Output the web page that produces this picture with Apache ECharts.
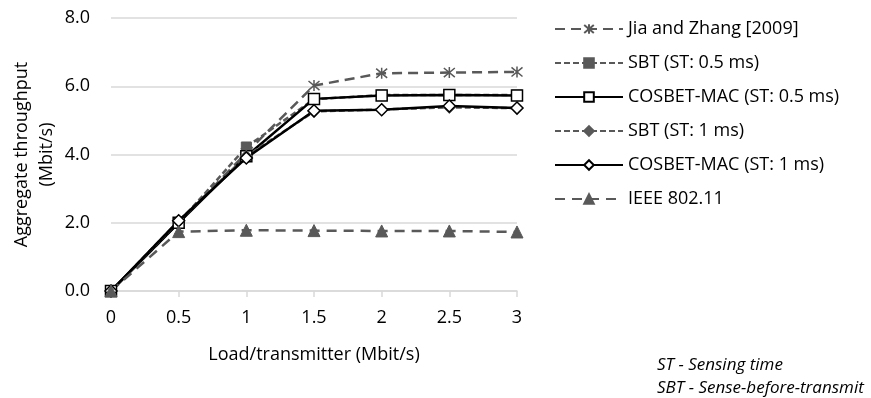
<!DOCTYPE html>
<html>
<head>
<meta charset="utf-8">
<script src="https://cdn.jsdelivr.net/npm/echarts@6/dist/echarts.min.js"></script>
<style>html,body{margin:0;padding:0;background:#fff}#c{width:871px;height:398px}</style>
</head>
<body>
<div id="c"></div>
<script>
const loads = [0, 0.5, 1, 1.5, 2, 2.5, 3];
const jiaZhang = [0, 2.0, 4.05, 6.02, 6.38, 6.40, 6.42];
const sbt05 = [0, 2.0, 4.22, 5.62, 5.74, 5.74, 5.74];
const cosbet05 = [0, 2.0, 3.95, 5.63, 5.73, 5.74, 5.73];
const sbt1 = [0, 2.05, 3.95, 5.26, 5.32, 5.38, 5.36];
const cosbet1 = [0, 2.06, 3.9, 5.28, 5.31, 5.42, 5.36];
const ieee = [0, 1.74, 1.78, 1.77, 1.76, 1.76, 1.73];
const names = ['Jia and Zhang [2009]', 'SBT (ST: 0.5 ms)', 'COSBET-MAC (ST: 0.5 ms)', 'SBT (ST: 1 ms)', 'COSBET-MAC (ST: 1 ms)', 'IEEE 802.11'];
const yTicks = [0, 2, 4, 6, 8];

const FONT = 'Open Sans';
const GRAY = '#595959';
const pair = arr => loads.map((x, i) => [x, arr[i]]);
const asterisk = 'path://M0,0L10,10M10,0L0,10M5,-1L5,11';

const chart = echarts.init(document.getElementById('c'));
chart.setOption({
  animation: false,
  textStyle: { fontFamily: FONT },
  grid: { left: 111, right: 354, top: 18, bottom: 107, outerBoundsMode: 'none', containLabel: false },
  xAxis: {
    type: 'value', min: 0, max: 3, interval: 0.5,
    name: 'Load/transmitter (Mbit/s)', nameLocation: 'middle', nameGap: 55,
    nameTextStyle: { fontSize: 18, color: '#000', fontFamily: FONT },
    axisLine: { show: true, lineStyle: { color: '#d9d9d9', width: 1.5 } },
    axisTick: { show: true, length: 6, lineStyle: { color: '#d9d9d9', width: 1.5 } },
    axisLabel: { fontSize: 18, color: '#000', margin: 18, fontFamily: FONT },
    splitLine: { show: false }
  },
  yAxis: {
    type: 'value', min: yTicks[0], max: yTicks[yTicks.length - 1], interval: 2,
    name: 'Aggregate throughput\n(Mbit/s)', nameLocation: 'middle', nameGap: 52, nameRotate: 90,
    nameTextStyle: { fontSize: 18, color: '#000', lineHeight: 25, fontFamily: FONT },
    axisLine: { show: false }, axisTick: { show: false },
    axisLabel: { fontSize: 18, color: '#000', margin: 21, formatter: v => v.toFixed(1), fontFamily: FONT },
    splitLine: { lineStyle: { color: '#d9d9d9', width: 1.5 } }
  },
  legend: {
    orient: 'vertical', left: 549, top: 14,
    itemWidth: 68, itemHeight: 12, itemGap: 14,
    textStyle: { fontSize: 18, color: '#000', lineHeight: 20, fontFamily: FONT },
    data: names
  },
  graphic: [
    { type: 'text', left: 657, top: 357, style: { text: 'ST - Sensing time', font: 'italic 17px "Open Sans"', fill: '#000' } },
    { type: 'text', left: 657, top: 380, style: { text: 'SBT - Sense-before-transmit', font: 'italic 17px "Open Sans"', fill: '#000' } }
  ],
  series: [
    { name: names[0], type: 'line', data: pair(jiaZhang), symbol: asterisk, symbolSize: 11,
      lineStyle: { color: GRAY, width: 2.5, type: [10, 6] },
      itemStyle: { color: GRAY, borderColor: GRAY, borderWidth: 1.5 } },
    { name: names[1], type: 'line', data: pair(sbt05), symbol: 'rect', symbolSize: 10,
      lineStyle: { color: GRAY, width: 2.5, type: [6, 3] },
      itemStyle: { color: GRAY, borderColor: GRAY, borderWidth: 1 } },
    { name: names[2], type: 'line', data: pair(cosbet05), symbol: 'rect', symbolSize: 11,
      lineStyle: { color: '#000', width: 2.5, type: 'solid' },
      itemStyle: { color: '#fff', borderColor: '#000', borderWidth: 1.5 } },
    { name: names[3], type: 'line', data: pair(sbt1), symbol: 'diamond', symbolSize: 12,
      lineStyle: { color: GRAY, width: 2.5, type: [6, 3] },
      itemStyle: { color: GRAY, borderColor: GRAY, borderWidth: 1 } },
    { name: names[4], type: 'line', data: pair(cosbet1), symbol: 'diamond', symbolSize: 12,
      lineStyle: { color: '#000', width: 2.5, type: 'solid' },
      itemStyle: { color: '#fff', borderColor: '#000', borderWidth: 1.5 } },
    { name: names[5], type: 'line', data: pair(ieee), symbol: 'triangle', symbolSize: 12,
      lineStyle: { color: GRAY, width: 2.5, type: [10, 7] },
      itemStyle: { color: GRAY, borderColor: GRAY, borderWidth: 1 } }
  ]
});
</script>
</body>
</html>
